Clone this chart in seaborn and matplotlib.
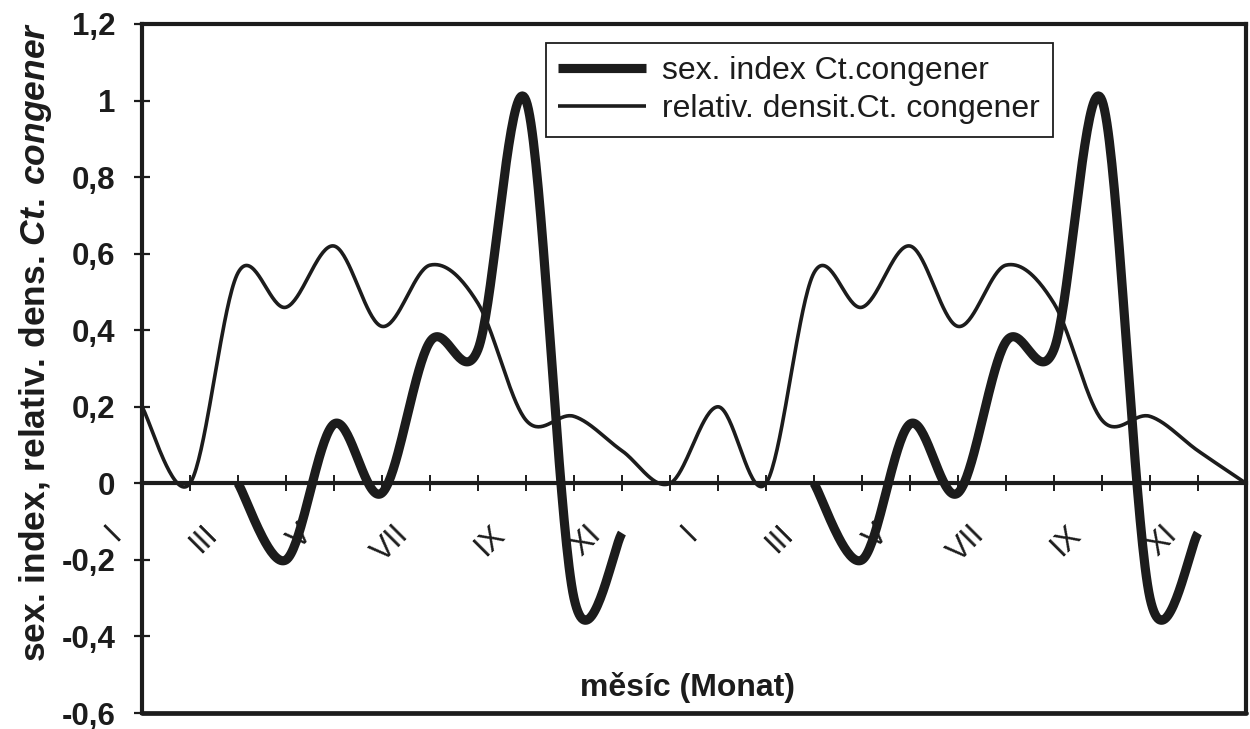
import numpy as np
import matplotlib
matplotlib.use("Agg")
import matplotlib.pyplot as plt
import matplotlib.transforms as mtransforms
from matplotlib.lines import Line2D
import seaborn as sns

nan = np.nan

# ---------------- data ----------------
month_labels = ["I", "", "III", "", "V", "", "VII", "", "IX", "", "XI", ""] * 2
sex_index = [nan, nan, 0.0, -0.2, 0.155, -0.025, 0.37, 0.35, 1.0, -0.30, -0.13, nan,
             nan, nan, 0.0, -0.2, 0.155, -0.025, 0.37, 0.35, 1.0, -0.30, -0.13, nan]
rel_density = [0.2, 0.0, 0.55, 0.46, 0.62, 0.41, 0.57, 0.47, 0.165, 0.175, 0.085, 0.0,
               0.2, 0.0, 0.55, 0.46, 0.62, 0.41, 0.57, 0.47, 0.165, 0.175, 0.085, 0.0]
y_ticks = [-0.6, -0.4, -0.2, 0.0, 0.2, 0.4, 0.6, 0.8, 1.0, 1.2]
y_tick_labels = ["-0,6", "-0,4", "-0,2", "0", "0,2", "0,4", "0,6", "0,8", "1", "1,2"]
legend_labels = ["sex. index Ct.congener", "relativ. densit.Ct. congener"]

INK = "#1c1c1c"

sns.set_theme(style="white")
plt.rcParams["font.family"] = ["Liberation Sans", "DejaVu Sans"]
plt.rcParams["mathtext.fontset"] = "custom"
plt.rcParams["mathtext.rm"] = "Liberation Sans:bold"
plt.rcParams["mathtext.it"] = "Liberation Sans:italic:bold"
plt.rcParams["mathtext.bf"] = "Liberation Sans:bold"


def smooth_runs(values, n=40):
    """Excel-like smoothed line: cubic Bezier through the points (per contiguous run)."""
    v = np.asarray(values, float)
    idx = np.arange(len(v), dtype=float)
    runs, cur = [], []
    for i, val in enumerate(v):
        if np.isnan(val):
            if cur:
                runs.append(cur)
            cur = []
        else:
            cur.append(i)
    if cur:
        runs.append(cur)
    t = np.linspace(0, 1, n)[:, None]
    out = []
    for r in runs:
        P = np.column_stack([idx[r], v[r]])
        Q = np.vstack([P[0], P, P[-1]])
        pts = []
        for k in range(len(P) - 1):
            p0, p1, p2, p3 = Q[k], Q[k + 1], Q[k + 2], Q[k + 3]
            c1 = p1 + (p2 - p0) / 6.0
            c2 = p2 - (p3 - p1) / 6.0
            b = ((1 - t) ** 3) * p1 + 3 * ((1 - t) ** 2) * t * c1 + 3 * (1 - t) * t ** 2 * c2 + t ** 3 * p2
            pts.append(b if k == 0 else b[1:])
        out.append(np.vstack(pts))
    return out


fig = plt.figure(figsize=(12.5, 7.29), dpi=100)
ax = fig.add_axes([142 / 1250, 16 / 729, (1246 - 142) / 1250, (713 - 24) / 729])
ax.set_facecolor("white")
fig.patch.set_facecolor("white")

LW_BOLD = 6.6
LW_THIN = 2.6

for seg in smooth_runs(sex_index):
    sns.lineplot(x=seg[:, 0], y=seg[:, 1], ax=ax, color=INK, linewidth=LW_BOLD,
                 sort=False, estimator=None, legend=False,
                 solid_capstyle="butt", solid_joinstyle="round")
for seg in smooth_runs(rel_density):
    sns.lineplot(x=seg[:, 0], y=seg[:, 1], ax=ax, color=INK, linewidth=LW_THIN,
                 sort=False, estimator=None, legend=False,
                 solid_capstyle="butt", solid_joinstyle="round")

ax.set_xlim(0, len(month_labels) - 1)
ax.set_ylim(-0.6, 1.2)

# spines: box frame, x axis through zero
for s in ["left", "top", "right"]:
    ax.spines[s].set_color(INK)
    ax.spines[s].set_linewidth(3)
    ax.spines[s].set_visible(True)
ax.spines["bottom"].set_position(("data", 0))
ax.spines["bottom"].set_color(INK)
ax.spines["bottom"].set_linewidth(3)
ax.axhline(-0.6, color=INK, linewidth=3.4, clip_on=False, zorder=5)

ax.set_yticks(y_ticks)
ax.set_yticklabels(y_tick_labels, fontsize=22.5, fontweight="bold", color=INK)
ax.set_xticks(np.arange(len(month_labels)))
ax.set_xticklabels(month_labels, fontsize=22.5, color=INK, rotation=45,
                   ha="right", va="top")
ax.tick_params(axis="y", direction="inout", length=12, width=1.6, color=INK, pad=13, left=True)
ax.tick_params(axis="x", direction="inout", length=12, width=1.4, color=INK, pad=20, bottom=True)
shift = mtransforms.ScaledTranslation(-15 / 100, 0, fig.dpi_scale_trans)
for lab in ax.get_xticklabels():
    lab.set_transform(lab.get_transform() + shift)
ax.grid(False)

ax.set_ylabel("sex. index, relativ. dens. $\\mathit{Ct.\\:congener}$", fontsize=25.5,
              fontweight="bold", color=INK, va="center")
ax.yaxis.set_label_coords(-0.0965, 0.538)
ax.set_xlabel("měsíc (Monat)", fontsize=23, fontweight="bold", color=INK, va="center")
ax.xaxis.set_label_coords(0.4937, 0.0363)

handles = [Line2D([], [], color=INK, linewidth=LW_BOLD, solid_capstyle="butt"),
           Line2D([], [], color=INK, linewidth=LW_THIN, solid_capstyle="butt")]
leg = ax.legend(handles, legend_labels, loc="upper left", bbox_to_anchor=(0.3656, 0.9724),
                borderaxespad=0, frameon=True, fancybox=False, shadow=False,
                fontsize=23, handlelength=2.75, handletextpad=0.5, borderpad=0.4,
                labelspacing=0.25, framealpha=1)
leg.get_frame().set_edgecolor(INK)
leg.get_frame().set_linewidth(1.3)
for txt in leg.get_texts():
    txt.set_color(INK)

fig.savefig("out.png", dpi=100, facecolor="white")
